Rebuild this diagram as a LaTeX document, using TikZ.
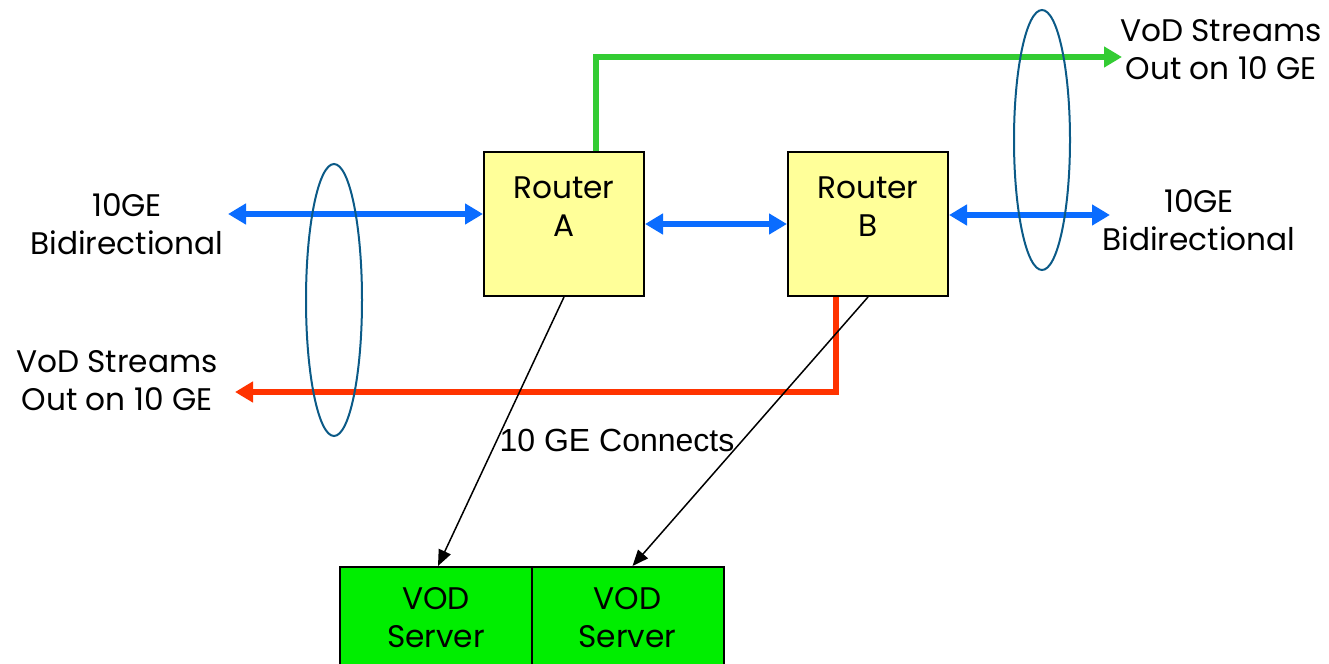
\documentclass[tikz,border=0pt]{standalone}
\usepackage{fontspec}
\setmainfont{Poppins}
\newfontfamily\arialfont{Liberation Sans}
\usetikzlibrary{arrows.meta,shadows}
\definecolor{vodBlue}{HTML}{0A6CFF}
\definecolor{vodGreen}{HTML}{33CC33}
\definecolor{vodRed}{HTML}{FF3300}
\definecolor{vodRing}{HTML}{0B5A87}
\definecolor{vodYellow}{HTML}{FFFF99}
\definecolor{vodServer}{HTML}{00EE00}
\tikzset{
  vod router/.style={draw=black, fill=vodYellow, line width=1pt, minimum width=80pt, minimum height=72pt, inner sep=0pt, drop shadow={shadow xshift=0.6pt, shadow yshift=-0.6pt, fill=black!40}},
  vod server/.style={draw=black, fill=vodServer, line width=1pt, minimum width=96pt, minimum height=60pt, inner sep=0pt},
  vod text/.style={font=\fontsize{15.6}{19}\selectfont, align=center, inner sep=0pt},
  vod link/.style={line width=3pt, -{Triangle[length=9pt,width=10pt]}},
  vod duplex/.style={line width=3pt, draw=vodBlue, {Triangle[length=9pt,width=10pt]}-{Triangle[length=9pt,width=10pt]}},
  vod ring/.style={draw=vodRing, line width=1pt},
  vod connect/.style={draw=black, line width=0.75pt, -{Triangle[length=8pt,width=6.5pt]}},
}

\begin{document}
\begin{tikzpicture}[x=0.5pt,y=-0.5pt]
  \useasboundingbox (0,0) rectangle (1329,664);
  \clip (0,0) rectangle (1329,664);
  % routers and servers
  \node[vod router] (routerA) at (564,224) {};
  \node[vod router] (routerB) at (868,224) {};
  \node[vod text, yshift=8.5pt] at (routerA.center) {Router\\A};
  \node[vod text, yshift=8.5pt] at (routerB.center) {Router\\B};
  \node[vod server] (serverA) at (436,627) {};
  \node[vod server] (serverB) at (627.5,627) {};
  \node[vod text, yshift=4.5pt] at (serverA.center) {VOD\\Server};
  \node[vod text, yshift=4.5pt] at (serverB.center) {VOD\\Server};
  % side labels
  \node[vod text] (leftDuplex) at (127,224) {10GE\\Bidirectional};
  \node[vod text] (leftStreams) at (117,381) {VoD Streams\\Out on 10 GE};
  \node[vod text] (rightDuplex) at (1199,220) {10GE\\Bidirectional};
  \node[vod text] (rightStreams) at (1221,50) {VoD Streams\\Out on 10 GE};
  \node[font=\arialfont\fontsize{16}{19}\selectfont, inner sep=0pt] (connects) at (617,440) {10 GE Connects};
  % free ends
  \coordinate (leftEnd) at (228,214);
  \coordinate (rightEnd) at (1110,215);
  \coordinate (greenEnd) at (1122,57);
  \coordinate (redEnd) at (235,392);
  % links
  \draw[vod duplex] (leftEnd) -- (routerA.west |- leftEnd);
  \draw[vod duplex] (routerA.east) -- (routerB.west);
  \draw[vod duplex] (routerB.east |- rightEnd) -- (rightEnd);
  \draw[vod link, draw=vodGreen] ([xshift=16pt]routerA.north) |- (greenEnd);
  \draw[vod link, draw=vodRed] ([xshift=-16pt]routerB.south) |- (redEnd);
  \draw[vod connect] (routerA.south) -- ([xshift=1pt]serverA.north);
  \draw[vod connect] (routerB.south) -- ([xshift=2.5pt]serverB.north);
  % bundles
  \draw[vod ring] (334,300) ellipse [x radius=28, y radius=136];
  \draw[vod ring] (1042,140) ellipse [x radius=28, y radius=130];
\end{tikzpicture}
\end{document}
